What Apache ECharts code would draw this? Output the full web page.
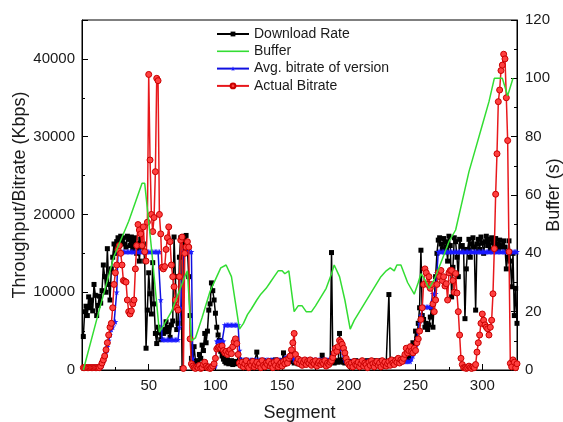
<!DOCTYPE html>
<html>
<head>
<meta charset="utf-8">
<script src="https://cdn.jsdelivr.net/npm/echarts@6/dist/echarts.min.js"></script>
<style>
  html, body { margin: 0; padding: 0; background: #fff; }
  #chart { width: 563px; height: 422px; }
</style>
</head>
<body>
<div id="chart"></div>
<script>
// Segment numbers 1..326
const segmentCount = 326;
const segments = Array.from({ length: segmentCount }, (_, i) => i + 1);

// Download rate per segment (Kbps)
const downloadRate = [
  4300, 7500, 8200, 7000, 9400, 8000, 9000, 7600, 11000, 9600,
  7000, 8300, 9500, 8600, 10200, 13500, 12000, 10000, 15600, 11000,
  9000, 13000, 14500, 16200, 15000, 16500, 17000, 16000, 17200, 16500,
  17000, 16200, 15800, 17200, 16800, 16000, 17100, 15500, 16600, 17000,
  15000, 16300, 14000, 16800, 15800, 16200, 14000, 2800, 7700, 12500,
  9800, 7200, 13800, 8500, 4700, 3400, 5500, 4800, 3900, 4800,
  4700, 5200, 6200, 4900, 5500, 4200, 5800, 6300, 17100, 12000,
  5200, 6000, 14500, 17000, 200, 17100, 16000, 17300, 15500, 12000,
  7000, 1500, 1000, 3000, 1200, 800, 1000, 2000, 1500, 3200,
  2500, 4700, 3500, 5000, 7700, 8500, 11200, 10200, 9000, 7300,
  5500, 4500, 3800, 2400, 1800, 1400, 1100, 900, 1300, 800,
  1000, 1200, 700, 900, 1100, 800, 1000, 1300, 900, 1100,
  800, 1000, 1200, 900, 1100, 1000, 800, 1200, 900, 1000,
  2300, 1000, 900, 1100, 800, 1200, 1000, 900, 1100, 1000,
  800, 1200, 1000, 900, 1300, 1000, 800, 1100, 1000, 1200,
  2200, 900, 1000, 1100, 1300, 1200, 2000, 1100, 900, 1000,
  1200, 800, 1000, 1100, 900, 1000, 1200, 900, 1000, 1100,
  800, 1000, 1200, 900, 1100, 1000, 800, 1100, 1000, 1900,
  1000, 900, 1100, 1000, 800, 1200, 15100, 1000, 900, 1100,
  1200, 1000, 4700, 1300, 1100, 1000, 900, 1200, 1000, 1100,
  900, 1000, 1100, 1000, 1200, 900, 1000, 1100, 800, 1000,
  1100, 1000, 900, 1200, 1000, 1100, 900, 1000, 1200, 1000,
  1100, 900, 1000, 1200, 1000, 1100, 900, 1000, 1100, 9700,
  1000, 1200, 1100, 1000, 1300, 1200, 1400, 1100, 1300, 1500,
  1200, 1600, 1400, 1800, 1500, 2200, 2500, 3500, 3000, 5000,
  4000, 6000, 8000, 15400, 7000, 6500, 5500, 6000, 5200, 5800,
  6800, 8000, 5500, 9000, 12000, 15000, 16700, 17000, 16200, 15600,
  16900, 15200, 16500, 14000, 17200, 16000, 9400, 13200, 17000, 16500,
  14500, 12000, 16800, 15900, 16000, 15500, 6600, 13000, 15500, 16800,
  14500, 16200, 17000, 15800, 7700, 16200, 16800, 15500, 17100, 16300,
  15000, 16500, 17200, 16000, 16800, 15500, 17000, 16400, 15900, 16900,
  16200, 15500, 16700, 15800, 16000, 16600, 15800, 13000, 14500, 16600,
  14000, 10700, 15000, 7000, 10500, 6000
];

// Average bitrate of the selected version per segment (Kbps)
const avgBitrate = [
  400, 400, 400, 400, 400, 400, 400, 400, 400, 400,
  400, 400, 400, 400, 600, 1000, 1500, 2200, 3000, 3800,
  4500, 5200, 5500, 6000, 6200, 10000, 15200, 15200, 15200, 15200,
  15200, 15200, 15200, 15200, 15200, 15200, 15200, 15200, 15200, 15200,
  15200, 15200, 15200, 15200, 15200, 15200, 15200, 15200, 15200, 15200,
  15200, 15200, 15200, 15200, 15200, 15200, 15200, 15200, 9000, 3900,
  3900, 3900, 3900, 3900, 3900, 3900, 3900, 3900, 3900, 3900,
  3900, 3900, 5500, 8000, 12000, 15200, 15200, 15200, 15200, 15200,
  15200, 15200, 1500, 500, 500, 500, 500, 500, 500, 500,
  500, 500, 500, 500, 500, 500, 500, 500, 500, 500,
  3700, 3700, 3700, 3700, 3700, 3700, 5800, 5800, 5800, 5800,
  5800, 5800, 5800, 5800, 5800, 5800, 5800, 2500, 1300, 1300,
  1300, 1300, 1300, 1300, 1300, 1300, 1300, 1300, 1300, 1300,
  1300, 1300, 1300, 1300, 1300, 1300, 1300, 1300, 1300, 1300,
  1300, 1300, 1300, 1300, 1300, 1300, 1300, 1300, 1300, 1300,
  1300, 1300, 1700, 1700, 1700, 1700, 1700, 1700, 1300, 1300,
  1300, 1300, 1300, 1300, 1300, 1300, 1300, 1300, 1300, 1300,
  1300, 1300, 1300, 1300, 1300, 1300, 1300, 1300, 1300, 1300,
  1300, 1300, 1300, 1300, 1300, 1300, 1300, 2000, 2700, 2700,
  2700, 2700, 2700, 2700, 2700, 2000, 1300, 1100, 1100, 1100,
  1100, 1100, 1100, 1100, 1100, 1100, 1100, 1100, 1100, 1100,
  1100, 1100, 1100, 1100, 1100, 1100, 1100, 1100, 1100, 1100,
  1100, 1100, 1100, 1100, 1100, 1100, 1100, 1100, 1100, 1100,
  1100, 1100, 1100, 1100, 1100, 1100, 1100, 1100, 1100, 1100,
  1100, 1100, 1100, 1100, 1100, 1100, 1400, 1800, 2500, 3000,
  4000, 5000, 6000, 7000, 8100, 8100, 8100, 8100, 8100, 8100,
  8100, 8100, 9800, 9800, 9800, 12500, 15200, 15200, 15200, 15200,
  15200, 15200, 15200, 15200, 15200, 15200, 15200, 15200, 15200, 15200,
  15200, 15200, 15200, 15200, 15200, 15200, 15200, 15200, 15200, 15200,
  15200, 15200, 15200, 15200, 15200, 15200, 15200, 15200, 15200, 15200,
  15200, 15200, 15200, 15200, 15200, 15200, 15200, 15200, 15200, 15200,
  15200, 15200, 15200, 15200, 15200, 15200, 15200, 15200, 15200, 15200,
  15200, 15200, 15200, 15200, 15200, 15200
];

// Actual bitrate of each downloaded segment (Kbps)
const actualBitrate = [
  300, 300, 300, 300, 300, 300, 300, 300, 300, 300,
  300, 300, 300, 500, 900, 1300, 1800, 2600, 3500, 4500,
  5500, 6000, 8000, 11000, 12500, 13500, 15500, 16000, 15000, 13500,
  11500, 11400, 11300, 9000, 7500, 7200, 7600, 8500, 9000, 13000,
  16000, 18700, 18000, 17500, 16000, 18400, 15200, 14000, 19000, 38000,
  27000, 20000, 17800, 19600, 25500, 37500, 37200, 20000, 17500, 13200,
  13000, 13300, 15500, 17000, 18400, 16500, 13500, 12000, 10700, 9000,
  8000, 7700, 12000, 16700, 17100, 200, 15000, 15800, 16500, 15800,
  4000, 800, 500, 300, 200, 400, 300, 600, 200, 300,
  700, 1000, 500, 300, 400, 200, 300, 500, 800, 1500,
  2700, 2900, 3000, 2800, 3100, 2500, 2200, 2400, 2000, 2300,
  2600, 2100, 3000, 3600, 4000, 3400, 2000, 900, 600, 1000,
  400, 800, 1200, 500, 300, 900, 600, 1100, 400, 700,
  1000, 500, 800, 300, 1200, 600, 400, 900, 700, 1100,
  500, 800, 300, 1000, 600, 1200, 400, 700, 900, 500,
  1100, 800, 1300, 900, 1500, 1800, 2600, 3500, 4700, 2000,
  1000, 1400, 800, 1200, 600, 1000, 1300, 700, 1100, 900,
  1300, 600, 1000, 800, 1200, 500, 900, 1100, 700, 1000,
  800, 1200, 500, 900, 700, 1000, 1200, 1600, 2200, 2800,
  2400, 3000, 3800, 3600, 3300, 2800, 2200, 1500, 1000, 700,
  500, 900, 400, 1100, 700, 600, 1000, 400, 800, 1200,
  500, 900, 700, 300, 1000, 600, 1200, 800, 400, 900,
  1100, 600, 900, 400, 1200, 700, 1000, 500, 800, 1100,
  600, 1300, 900, 700, 1200, 1000, 1500, 900, 1300, 1100,
  1500, 2000, 2800, 2200, 2500, 3000, 2400, 2200, 2800, 2500,
  3500, 4000, 5000, 6500, 8000, 11000, 13000, 12500, 11000, 12000,
  10500, 11000, 8500, 7500, 9000, 11000, 12500, 12000, 12800, 11500,
  12000, 10800, 11100, 9000, 12500, 12800, 12800, 11500, 10000, 12400,
  9900, 7500, 4500, 1500, 700, 300, 300, 200, 300, 500,
  300, 200, 400, 300, 700, 2300, 3500, 4500, 6000, 7200,
  6400, 5800, 5500, 5300, 4500, 5500, 6400, 9800, 15600, 22600,
  27800, 34500, 36000, 38500, 39200, 40600, 40000, 35000, 29500, 15200,
  850, 400, 1300, 1000, 300, 800
];

// Playback buffer level (s) at the listed segments
const bufferSegments = [
  1, 12, 24, 35, 45, 47, 52, 58, 62, 67, 72, 77, 79, 82, 85, 90, 96, 101, 104, 108,
  112, 118, 121, 124, 127, 131, 134, 138, 141, 144, 147, 150, 152, 155, 159, 162, 165, 168, 172, 175,
  179, 183, 187, 189, 193, 197, 201, 204, 208, 212, 216, 220, 224, 228, 231, 234, 236, 239, 244, 249,
  252, 254, 257, 260, 264, 270, 275, 280, 285, 290, 295, 300, 305, 309, 315, 319, 323
];
const bufferLevel = [
  0, 19, 39, 51, 64, 64, 42, 13, 16, 20, 26, 32, 34, 10, 11, 18, 27, 32, 35, 36,
  32, 14, 16, 19, 21, 24, 26, 28, 30, 32, 34, 34, 33, 34, 20, 22, 22, 20, 20, 22,
  25, 28, 33, 36, 32, 24, 14, 17, 20, 23, 26, 29, 32, 34, 35, 34, 36, 36, 30, 26,
  30, 33, 31, 28, 31, 38, 44, 48, 58, 68, 76, 84, 92, 100, 100, 94, 100
];

// Axis tick settings
const xTicks = [50, 100, 150, 200, 250, 300];
const leftTicks = [0, 10000, 20000, 30000, 40000];
const rightTicks = [0, 20, 40, 60, 80, 100, 120];

const pair = (ys) => segments.map((s, i) => [s, ys[i]]);
const bufferData = bufferSegments.map((s, i) => [s, bufferLevel[i]]);

const FONT = "'Liberation Sans', Arial, sans-serif";
const TXT = '#1a1a1a';
const STAR = 'path://M50,0 L61,35 L98,35 L68,57 L79,91 L50,70 L21,91 L32,57 L2,35 L39,35 Z';
// plain bar used as the legend key of the buffer line
const BAR = 'path://M0,0 L32,0 L32,1.6 L0,1.6 Z';

const chart = echarts.init(document.getElementById('chart'), null, { renderer: 'canvas' });

chart.setOption({
  animation: false,
  backgroundColor: '#fff',
  grid: {
    left: 82, right: 46, top: 20, bottom: 52,
    outerBoundsMode: 'none', containLabel: false,
    show: true, borderColor: '#000', borderWidth: 1, backgroundColor: 'transparent'
  },
  legend: {
    orient: 'vertical',
    left: 211, top: 22, padding: 5,
    itemWidth: 32, itemHeight: 6, itemGap: 3.3,
    textStyle: { fontFamily: FONT, fontSize: 14, color: TXT, lineHeight: 14 },
    data: [
      'Download Rate',
      { name: 'Buffer', icon: BAR },
      'Avg. bitrate of version',
      'Actual Bitrate'
    ]
  },
  xAxis: {
    type: 'value', min: 0, max: 326, interval: 50,
    name: 'Segment', nameLocation: 'middle', nameGap: 34, nameMoveOverlap: false,
    nameTextStyle: { fontFamily: FONT, fontSize: 18, color: TXT },
    axisLine: { lineStyle: { color: '#000', width: 1 } },
    axisTick: { inside: true, length: 6, lineStyle: { color: '#000' } },
    minorTick: { show: true, splitNumber: 2, length: 3, lineStyle: { color: '#000' } },
    splitLine: { show: false },
    axisLabel: {
      fontFamily: FONT, fontSize: 15, color: TXT, margin: 8,
      formatter: (v) => (xTicks.includes(v) ? String(v) : '')
    }
  },
  yAxis: [
    {
      type: 'value', min: 0, max: 45000, interval: 10000, position: 'left',
      name: 'Throughput/Bitrate (Kbps)', nameLocation: 'middle', nameGap: 53, nameRotate: 90,
      nameMoveOverlap: false,
      nameTextStyle: { fontFamily: FONT, fontSize: 18, color: TXT },
      axisLine: { show: true, lineStyle: { color: '#000', width: 1 } },
      axisTick: { show: true, inside: true, length: 6, lineStyle: { color: '#000' } },
      minorTick: { show: true, splitNumber: 2, length: 3, lineStyle: { color: '#000' } },
      splitLine: { show: false },
      axisLabel: {
        fontFamily: FONT, fontSize: 15, color: TXT, margin: 7,
        formatter: (v) => (leftTicks.includes(v) ? String(v) : '')
      }
    },
    {
      type: 'value', min: 0, max: 120, interval: 20, position: 'right',
      name: 'Buffer (s)', nameLocation: 'middle', nameGap: 28, nameRotate: 90,
      nameMoveOverlap: false,
      nameTextStyle: { fontFamily: FONT, fontSize: 18, color: TXT },
      axisLine: { show: true, lineStyle: { color: '#000', width: 1 } },
      axisTick: { show: true, inside: true, length: 6, lineStyle: { color: '#000' } },
      minorTick: { show: true, splitNumber: 2, length: 3, lineStyle: { color: '#000' } },
      splitLine: { show: false },
      axisLabel: {
        fontFamily: FONT, fontSize: 15, color: TXT, margin: 8,
        formatter: (v) => (rightTicks.includes(v) ? String(v) : '')
      }
    }
  ],
  series: [
    {
      name: 'Download Rate', type: 'line', yAxisIndex: 0, z: 2,
      data: pair(downloadRate),
      symbol: 'rect', symbolSize: 5, showSymbol: true, showAllSymbol: true,
      lineStyle: { color: '#000', width: 1.5 },
      itemStyle: { color: '#000' }
    },
    {
      name: 'Avg. bitrate of version', type: 'line', yAxisIndex: 0, z: 3,
      data: pair(avgBitrate),
      symbol: STAR, symbolSize: 6, showSymbol: true, showAllSymbol: true,
      lineStyle: { color: '#1010e0', width: 1.5 },
      itemStyle: { color: '#1a1aff' }
    },
    {
      name: 'Actual Bitrate', type: 'line', yAxisIndex: 0, z: 4,
      data: pair(actualBitrate),
      symbol: 'circle', symbolSize: 6, showSymbol: true, showAllSymbol: true,
      lineStyle: { color: '#e8181c', width: 1.5 },
      itemStyle: { color: '#ff4040', borderColor: '#c80000', borderWidth: 1 }
    },
    {
      name: 'Buffer', type: 'line', yAxisIndex: 1, z: 5,
      data: bufferData,
      showSymbol: false, symbol: 'none',
      lineStyle: { color: '#33dd33', width: 1.5 },
      itemStyle: { color: '#33dd33' }
    }
  ]
});
</script>
</body>
</html>
